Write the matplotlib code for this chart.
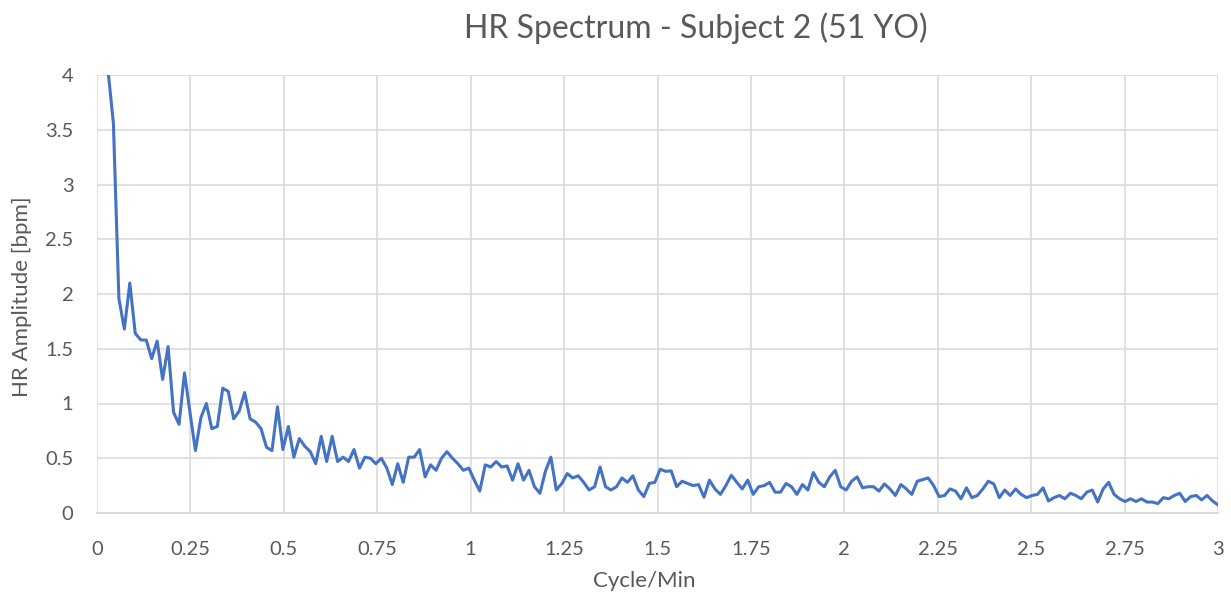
import numpy as np
import matplotlib
matplotlib.use("Agg")
import matplotlib.pyplot as plt
from matplotlib.ticker import FuncFormatter, MultipleLocator

# Spectrum bins (k = 2..205), bin width approx 3/205 cycle/min
freq_step = 3 / 205
first_bin = 2

amplitude = [
    4.05, 3.56, 1.96, 1.68, 2.10, 1.64, 1.58, 1.58, 1.41, 1.57,
    1.22, 1.52, 0.92, 0.81, 1.28, 0.92, 0.57, 0.87, 1.00, 0.77,
    0.79, 1.14, 1.11, 0.86, 0.93, 1.10, 0.86, 0.83, 0.77, 0.60,
    0.57, 0.97, 0.58, 0.79, 0.51, 0.68, 0.61, 0.56, 0.45, 0.70,
    0.47, 0.70, 0.47, 0.51, 0.47, 0.58, 0.41, 0.51, 0.50, 0.45,
    0.50, 0.41, 0.26, 0.45, 0.28, 0.51, 0.51, 0.58, 0.33, 0.44,
    0.39, 0.50, 0.56, 0.50, 0.45, 0.39, 0.41, 0.30, 0.20, 0.44,
    0.42, 0.47, 0.42, 0.43, 0.30, 0.45, 0.30, 0.39, 0.24, 0.18,
    0.38, 0.51, 0.21, 0.27, 0.36, 0.32, 0.34, 0.28, 0.21, 0.24,
    0.42, 0.24, 0.21, 0.24, 0.32, 0.28, 0.34, 0.21, 0.15, 0.27,
    0.28, 0.40, 0.38, 0.385, 0.24, 0.29, 0.27, 0.25, 0.26, 0.145,
    0.30, 0.22, 0.17, 0.25, 0.345, 0.28, 0.22, 0.30, 0.17, 0.24,
    0.25, 0.28, 0.19, 0.19, 0.27, 0.24, 0.17, 0.26, 0.21, 0.37,
    0.28, 0.24, 0.33, 0.39, 0.24, 0.21, 0.29, 0.33, 0.23, 0.24,
    0.24, 0.20, 0.265, 0.22, 0.16, 0.26, 0.22, 0.17, 0.29, 0.305,
    0.32, 0.25, 0.15, 0.16, 0.22, 0.20, 0.13, 0.23, 0.14, 0.16,
    0.22, 0.29, 0.265, 0.14, 0.21, 0.16, 0.22, 0.17, 0.14, 0.16,
    0.17, 0.23, 0.11, 0.14, 0.16, 0.13, 0.18, 0.16, 0.13, 0.19,
    0.21, 0.10, 0.22, 0.28, 0.17, 0.13, 0.105, 0.13, 0.105, 0.13,
    0.10, 0.10, 0.086, 0.14, 0.13, 0.16, 0.18, 0.105, 0.15, 0.16,
    0.12, 0.16, 0.11, 0.074,
]

freq = (first_bin + np.arange(len(amplitude))) * freq_step

title = "HR Spectrum - Subject 2 (51 YO)"
x_label = "Cycle/Min"
y_label = "HR Amplitude [bpm]"

text_col = "#595959"
grid_col = "#d9d9d9"
plt.rcParams["font.family"] = ["Lato", "DejaVu Sans"]

W, H = 1231, 600
fig = plt.figure(figsize=(W / 100, H / 100), dpi=100)
ax = fig.add_axes([97 / W, 1 - 513 / H, (1218 - 97) / W, (513 - 75) / H])

ax.plot(freq, amplitude, color="#4472C4", linewidth=2.2, solid_joinstyle="round")

ax.set_xlim(0, 3)
ax.set_ylim(0, 4)
ax.xaxis.set_major_locator(MultipleLocator(0.25))
ax.yaxis.set_major_locator(MultipleLocator(0.5))
fmt = FuncFormatter(lambda v, p: f"{v:g}")
ax.xaxis.set_major_formatter(fmt)
ax.yaxis.set_major_formatter(fmt)

ax.grid(True, color=grid_col, linewidth=1.1)
ax.set_axisbelow(True)
for side in ["top", "right", "left"]:
    ax.spines[side].set_visible(False)
ax.spines["bottom"].set_color(grid_col)
ax.spines["bottom"].set_linewidth(1.3)

ax.tick_params(axis="both", length=0, labelsize=14.5, colors=text_col)
ax.tick_params(axis="x", pad=20)
ax.tick_params(axis="y", pad=17)

# titles placed in figure pixels to match the Excel layout
fig.text(644 / W, 1 - 581 / H, x_label, fontsize=16, color=text_col,
         ha="center", va="center")
fig.text(22 / W, 1 - 297 / H, y_label, fontsize=16, color=text_col,
         ha="center", va="center", rotation=90)
fig.text(696 / W, 1 - 28 / H, title, fontsize=23, color=text_col,
         ha="center", va="center")

fig.savefig("out.png", dpi=100)
